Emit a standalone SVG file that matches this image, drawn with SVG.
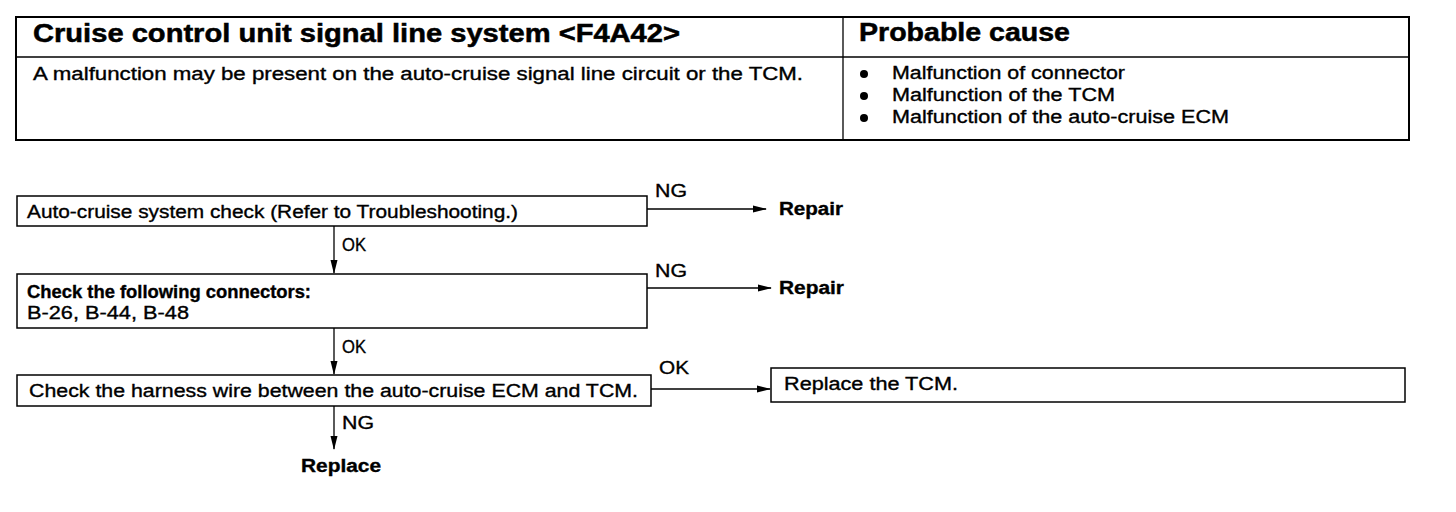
<svg xmlns="http://www.w3.org/2000/svg" width="1456" height="512" viewBox="0 0 1456 512">
<defs>
<marker id="ah" markerWidth="14" markerHeight="8" refX="13" refY="4" orient="auto" markerUnits="userSpaceOnUse">
<path d="M0,0.5 L14,4 L0,7.5 Z" fill="#000"/>
</marker>
</defs>
<style>
text{font-family:"Liberation Sans",Arial,sans-serif;fill:#000;stroke:#000;stroke-width:0.35}
.h{font-size:25px;font-weight:bold;stroke-width:0.5}
.t{font-size:18px}
.b{font-size:18px;font-weight:bold}
.box{fill:#fff;stroke:#000;stroke-width:1.5}
.ln{stroke:#000;stroke-width:1.3;fill:none}
</style>
<rect width="1456" height="512" fill="#fff"/>
<g id="table">
<rect x="16" y="17" width="1393" height="123" fill="none" stroke="#000" stroke-width="2"/>
<line x1="16" y1="57" x2="1409" y2="57" stroke="#000" stroke-width="1.3"/>
<line x1="843" y1="17" x2="843" y2="140" stroke="#000" stroke-width="1.3"/>
<text class="h" x="33" y="42" textLength="647" lengthAdjust="spacingAndGlyphs">Cruise control unit signal line system &lt;F4A42&gt;</text>
<text class="h" x="859" y="41" textLength="211" lengthAdjust="spacingAndGlyphs">Probable cause</text>
<text class="t" x="33" y="80" textLength="770" lengthAdjust="spacingAndGlyphs">A malfunction may be present on the auto-cruise signal line circuit or the TCM.</text>
<circle cx="864" cy="74" r="4"/>
<circle cx="864" cy="96" r="4"/>
<circle cx="864" cy="118" r="4"/>
<text class="t" x="892" y="79" textLength="233" lengthAdjust="spacingAndGlyphs">Malfunction of connector</text>
<text class="t" x="892" y="101" textLength="223" lengthAdjust="spacingAndGlyphs">Malfunction of the TCM</text>
<text class="t" x="892" y="123" textLength="337" lengthAdjust="spacingAndGlyphs">Malfunction of the auto-cruise ECM</text>
</g>
<g id="connectors">
<line class="ln" x1="647" y1="209" x2="766" y2="209" marker-end="url(#ah)"/>
<text class="t" x="655" y="197" textLength="32" lengthAdjust="spacingAndGlyphs">NG</text>
<line class="ln" x1="334" y1="226" x2="334" y2="273" marker-end="url(#ah)"/>
<text class="t" x="342" y="251" textLength="24" lengthAdjust="spacingAndGlyphs">OK</text>
<line class="ln" x1="647" y1="288" x2="771" y2="288" marker-end="url(#ah)"/>
<text class="t" x="655" y="277" textLength="32" lengthAdjust="spacingAndGlyphs">NG</text>
<line class="ln" x1="334" y1="328" x2="334" y2="374" marker-end="url(#ah)"/>
<text class="t" x="342" y="353" textLength="24" lengthAdjust="spacingAndGlyphs">OK</text>
<line class="ln" x1="651" y1="389" x2="770" y2="389" marker-end="url(#ah)"/>
<text class="t" x="659" y="374" textLength="30" lengthAdjust="spacingAndGlyphs">OK</text>
<line class="ln" x1="334" y1="406" x2="334" y2="449" marker-end="url(#ah)"/>
<text class="t" x="342" y="429" textLength="32" lengthAdjust="spacingAndGlyphs">NG</text>
</g>
<g id="n1">
<rect class="box" x="17" y="196" width="630" height="30"/>
<text class="t" x="27" y="218" textLength="491" lengthAdjust="spacingAndGlyphs">Auto-cruise system check (Refer to Troubleshooting.)</text>
</g>
<g id="r1">
<text class="b" x="779" y="215" textLength="64" lengthAdjust="spacingAndGlyphs">Repair</text>
</g>
<g id="n2">
<rect class="box" x="17" y="274" width="630" height="54"/>
<text class="b" x="27" y="298" textLength="284" lengthAdjust="spacingAndGlyphs">Check the following connectors:</text>
<text class="t" x="27" y="319" textLength="162" lengthAdjust="spacingAndGlyphs">B-26, B-44, B-48</text>
</g>
<g id="r2">
<text class="b" x="779" y="294" textLength="65" lengthAdjust="spacingAndGlyphs">Repair</text>
</g>
<g id="n3">
<rect class="box" x="17" y="375" width="634" height="31"/>
<text class="t" x="29" y="397" textLength="609" lengthAdjust="spacingAndGlyphs">Check the harness wire between the auto-cruise ECM and TCM.</text>
</g>
<g id="n4">
<rect class="box" x="771" y="368" width="634" height="34"/>
<text class="t" x="784" y="390" textLength="174" lengthAdjust="spacingAndGlyphs">Replace the TCM.</text>
</g>
<g id="r3">
<text class="b" x="301" y="472" textLength="80" lengthAdjust="spacingAndGlyphs">Replace</text>
</g>
</svg>
